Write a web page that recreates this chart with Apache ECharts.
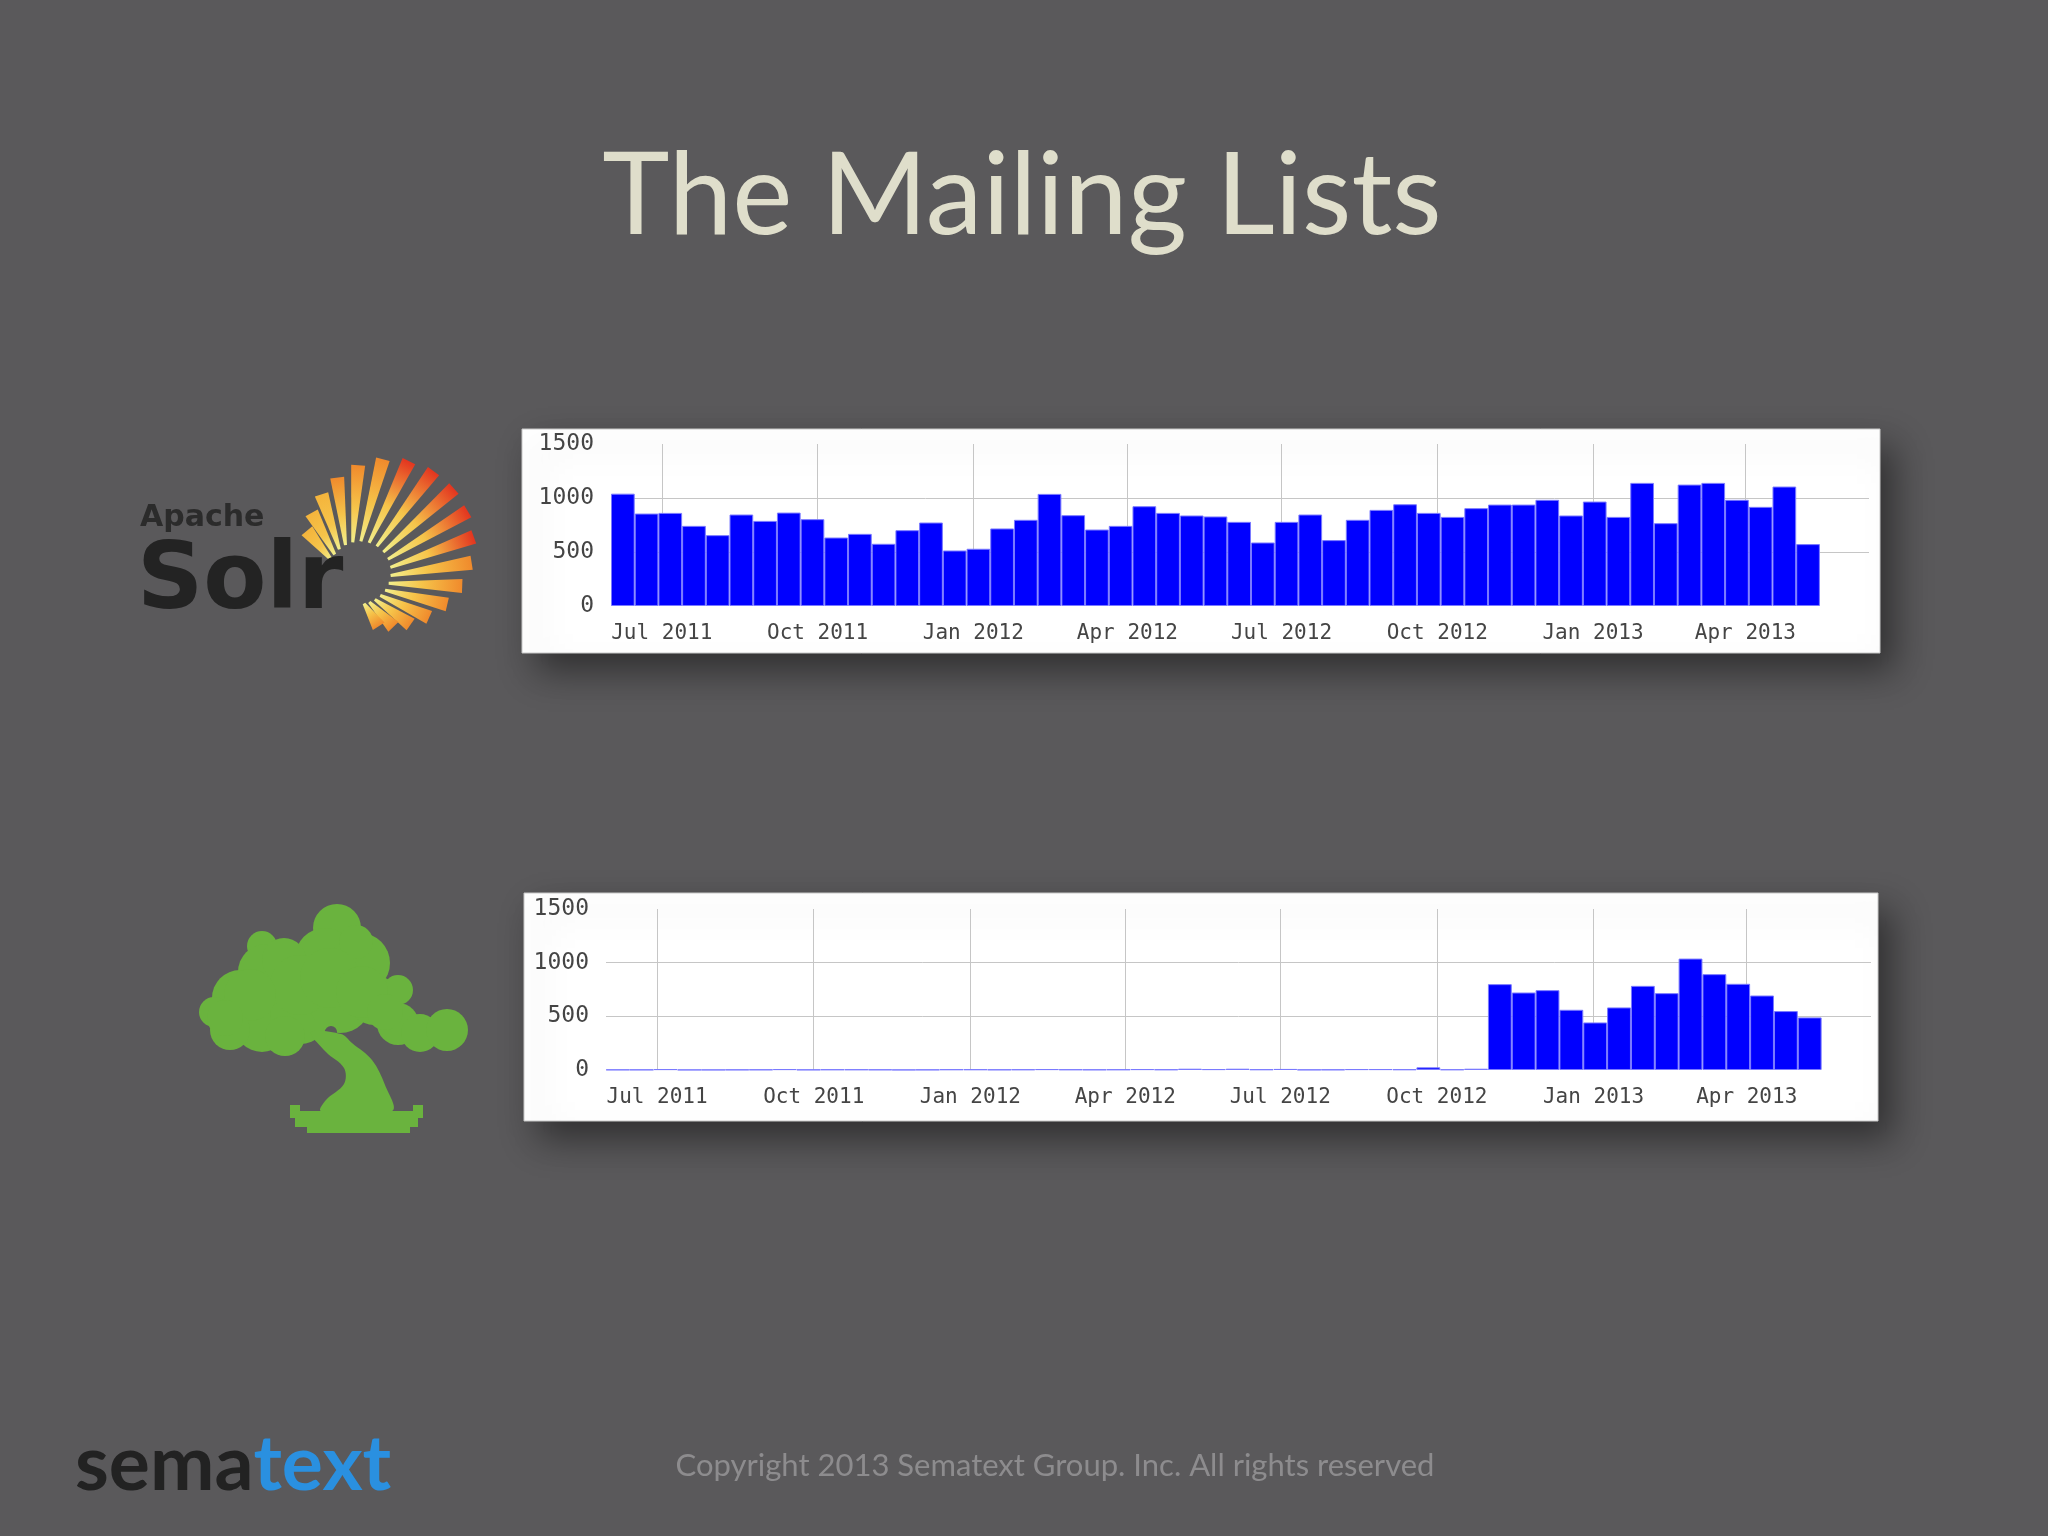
<!DOCTYPE html>
<html><head><meta charset="utf-8">
<script src="https://cdn.jsdelivr.net/npm/echarts@6/dist/echarts.min.js"></script>
<style>html,body{margin:0;padding:0;background:#5a595b}#c{width:2048px;height:1536px}</style>
</head><body><div id="c"></div>
<script>
// ---- data ----
const binMidDates = [
 '2011-06-08','2011-06-22','2011-07-06','2011-07-20','2011-08-03','2011-08-17','2011-08-31','2011-09-14','2011-09-28','2011-10-12',
 '2011-10-26','2011-11-09','2011-11-23','2011-12-07','2011-12-21','2012-01-04','2012-01-18','2012-02-01','2012-02-15','2012-02-29',
 '2012-03-14','2012-03-28','2012-04-11','2012-04-25','2012-05-09','2012-05-23','2012-06-06','2012-06-20','2012-07-04','2012-07-18',
 '2012-08-01','2012-08-15','2012-08-29','2012-09-12','2012-09-26','2012-10-10','2012-10-24','2012-11-07','2012-11-21','2012-12-05',
 '2012-12-19','2013-01-02','2013-01-16','2013-01-30','2013-02-13','2013-02-27','2013-03-13','2013-03-27','2013-04-10','2013-04-24',
 '2013-05-08'];
const solrMessages = [1040,856,862,742,656,847,788,865,804,634,668,576,702,773,514,530,718,798,1038,841,
 708,742,924,862,838,829,779,588,779,847,610,798,890,942,862,825,906,939,939,983,
 838,967,825,1140,767,1124,1140,983,918,1106,573];
const lowerListMessages = [3,3,8,2,2,3,4,8,3,5,5,4,2,3,6,6,4,5,8,5,
 4,5,8,5,12,8,12,6,10,3,4,8,8,6,25,5,12,800,722,744,
 561,443,583,784,716,1038,893,803,694,549,490];
const tickDates = ['2011-07-01','2011-10-01','2012-01-01','2012-04-01','2012-07-01','2012-10-01','2013-01-01','2013-04-01'];
const tickLabels = ['Jul 2011','Oct 2011','Jan 2012','Apr 2012','Jul 2012','Oct 2012','Jan 2013','Apr 2013'];
const axisStart = '2011-06-01', axisEnd = '2013-06-13';
const yMin = 0, yMax = 1500, yStep = 500;

// ---- build ----
const tickValues = tickDates.map(d => Date.parse(d));
const xMin = Date.parse(axisStart), xMax = Date.parse(axisEnd);
const BG = '#5a595b';
const labelFont = 'DejaVu Sans Mono';

const grids = [
  {left: 611, top: 444, width: 1258, height: 162},
  {left: 606, top: 909, width: 1265, height: 161}
];
function xAxisFor(i){
  return {type:'value', gridIndex:i, min:xMin, max:xMax,
    axisLine:{show:false}, axisTick:{show:false}, splitLine:{show:false},
    axisLabel:{customValues:tickValues, margin:17, color:'#454545', fontFamily:labelFont, fontSize:21,
      formatter: v => { const k = tickValues.indexOf(v); return k >= 0 ? tickLabels[k] : ''; }}};
}
function yAxisFor(i){
  return {type:'value', gridIndex:i, min:yMin, max:yMax, interval:yStep,
    axisLine:{show:false}, axisTick:{show:false},
    splitLine:{show:true, showMinLine:false, showMaxLine:false, lineStyle:{color:'#c6c6c6', width:1}},
    axisLabel:{margin:17, color:'#454545', fontFamily:labelFont, fontSize:23, formatter: v => String(v)}};
}
function barSeries(i, values, bw){
  return {type:'bar', xAxisIndex:i, yAxisIndex:i, z:3,
    data: binMidDates.map((d,k) => [Date.parse(d), values[k]]),
    barWidth: bw, barGap:'-100%',
    itemStyle:{color:'#0000ff', borderColor:'#7a7aff', borderWidth:1},
    emphasis:{disabled:true},
    markLine:{silent:true, z:1, symbol:['none','none'], label:{show:false},
      lineStyle:{color:'#c6c6c6', width:1, type:'solid'},
      emphasis:{disabled:true},
      data: tickValues.map(v => ({xAxis:v}))}
  };
}
const dayMs = 86400000;
const bw0 = 14 * grids[0].width / ((xMax - xMin)/dayMs);
const bw1 = 14 * grids[1].width / ((xMax - xMin)/dayMs);

// ---- decorative logos ----
const els = [];
els.push({type:'rect', z:-10, shape:{x:522,y:429,width:1358,height:224},
  style:{fill:'#ffffff', stroke:'#c8c8c8', lineWidth:1, shadowBlur:34, shadowOffsetX:14, shadowOffsetY:18, shadowColor:'rgba(0,0,0,0.45)'}});
els.push({type:'rect', z:-10, shape:{x:524,y:893,width:1354,height:228},
  style:{fill:'#ffffff', stroke:'#c8c8c8', lineWidth:1, shadowBlur:34, shadowOffsetX:14, shadowOffsetY:18, shadowColor:'rgba(0,0,0,0.45)'}});
// title
els.push({type:'text', z:10, x:1022, y:197, style:{text:'The Mailing Lists', fill:'#dfdecb', font:'114px Lato', align:'center', verticalAlign:'middle'}});
// copyright
els.push({type:'text', z:10, x:1055, y:1466, style:{text:'Copyright 2013 Sematext Group. Inc. All rights reserved', fill:'#8d8c8e', font:'31px Lato', align:'center', verticalAlign:'middle'}});
// sematext
els.push({type:'text', z:10, x:75, y:1465, style:{text:'{a|sema}{b|text}', verticalAlign:'middle', align:'left',
  rich:{a:{fill:'#222222', font:'bold 77px Lato'}, b:{fill:'#2a90e0', font:'bold 77px Lato'}}}});
// Solr
els.push({type:'text', z:10, x:140, y:518, style:{text:'Apache', fill:'#2b2b2b', font:'bold 30px "DejaVu Sans"', align:'left', verticalAlign:'middle'}});
els.push({type:'text', z:10, x:137, y:584, style:{text:'Solr', fill:'#232323', font:'bold 92px "DejaVu Sans"', align:'left', verticalAlign:'middle'}});
(function(){
  const F=[350,582], O=[390,543], R=84;
  const angles=[-130,-119,-108,-97,-86,-75,-64,-53,-42,-31,-20,-9,2,13,24,35,46,57];
  angles.forEach(a => {
    const r = a*Math.PI/180, d=[Math.cos(r), Math.sin(r)], p=[-d[1], d[0]];
    const fo=[F[0]-O[0], F[1]-O[1]];
    const b = d[0]*fo[0]+d[1]*fo[1], c = fo[0]*fo[0]+fo[1]*fo[1]-R*R;
    const t = -b + Math.sqrt(b*b - c);
    const ti = 14 + 0.22*t;
    const wi = 1.5, wo = 7;
    const ip=[F[0]+d[0]*ti, F[1]+d[1]*ti], op=[F[0]+d[0]*t, F[1]+d[1]*t];
    const outer = (a > -72 && a < -10) ? '#e3351f' : (a <= -100 ? '#f4b43c' : '#f08a2c');
    els.push({type:'polygon', z:9, shape:{points:[[ip[0]+p[0]*wi, ip[1]+p[1]*wi],[op[0]+p[0]*wo, op[1]+p[1]*wo],[op[0]-p[0]*wo, op[1]-p[1]*wo],[ip[0]-p[0]*wi, ip[1]-p[1]*wi]]},
      style:{fill:{type:'linear', global:true, x:ip[0], y:ip[1], x2:op[0], y2:op[1],
        colorStops:[{offset:0,color:'#f2ef8c'},{offset:0.45,color:'#f6c44a'},{offset:1,color:outer}]}}});
  });
})();
// bonsai
(function(){
  const G='#6ab33e';
  const blobs=[[337,928,24],[325,958,30],[360,963,30],[262,946,15],[266,972,28],[240,998,28],[214,1012,15],
    [262,1024,28],[300,1014,30],[340,1002,31],[374,1000,25],[398,990,15],[398,1024,21],[420,1033,19],[447,1030,21],
    [284,960,22],[356,942,17],[300,985,30],[250,995,26],[330,978,30],[362,992,26],[230,1030,20],[285,1036,20],[225,1018,18],[385,1012,18]];
  blobs.forEach(b => els.push({type:'circle', z:9, shape:{cx:b[0], cy:b[1], r:b[2]}, style:{fill:G}}));
  els.push({type:'circle', z:9, shape:{cx:331,cy:1032,r:6}, style:{fill:BG}});
  els.push({type:'polygon', z:9, shape:{smooth:0.35, points:[[311,1032],[326,1052],[344,1068],[344,1084],[326,1100],[321,1111],[392,1111],[385,1085],[372,1060],[352,1043],[341,1034]]}, style:{fill:G}});
  els.push({type:'polygon', z:9, shape:{points:[[290,1105],[300,1105],[300,1111],[413,1111],[413,1105],[423,1105],[423,1118],[418,1118],[418,1127],[410,1127],[410,1133],[307,1133],[307,1127],[295,1127],[295,1118],[290,1118]]}, style:{fill:G}});
})();

const chart = echarts.init(document.getElementById('c'), null, {renderer:'canvas'});
chart.setOption({
  backgroundColor: BG,
  animation:false,
  grid: grids,
  xAxis:[xAxisFor(0), xAxisFor(1)],
  yAxis:[yAxisFor(0), yAxisFor(1)],
  series:[barSeries(0, solrMessages, bw0), barSeries(1, lowerListMessages, bw1)],
  graphic:{elements:els}
});
</script></body></html>
